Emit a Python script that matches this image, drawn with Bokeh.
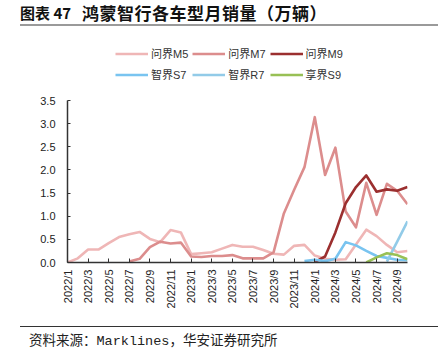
import math
from bokeh.plotting import figure
from bokeh.layouts import column
from bokeh.models import (Range1d, FixedTicker, Legend, LegendItem, Div,
                          PrintfTickFormatter)
from bokeh.embed import file_html
from bokeh.resources import INLINE

months = ["2022/1", "2022/2", "2022/3", "2022/4", "2022/5", "2022/6", "2022/7",
          "2022/8", "2022/9", "2022/10", "2022/11", "2022/12",
          "2023/1", "2023/2", "2023/3", "2023/4", "2023/5", "2023/6", "2023/7",
          "2023/8", "2023/9", "2023/10", "2023/11", "2023/12",
          "2024/1", "2024/2", "2024/3", "2024/4", "2024/5", "2024/6", "2024/7",
          "2024/8", "2024/9", "2024/10"]
tick_labels = ["2022/1", "2022/3", "2022/5", "2022/7", "2022/9", "2022/11",
               "2023/1", "2023/3", "2023/5", "2023/7", "2023/9", "2023/11",
               "2024/1", "2024/3", "2024/5", "2024/7", "2024/9"]
y_ticks = [0.0, 0.5, 1.0, 1.5, 2.0, 2.5, 3.0, 3.5]

# 万辆
m5_start = "2022/1"
m5 = [0.00, 0.09, 0.28, 0.28, 0.42, 0.55, 0.61, 0.66, 0.51, 0.44, 0.70, 0.65,
      0.18, 0.20, 0.22, 0.30, 0.38, 0.34, 0.34, 0.27, 0.19, 0.17, 0.36, 0.38,
      0.15, 0.08, 0.06, 0.07, 0.39, 0.71, 0.57, 0.38, 0.22, 0.25]
m7_start = "2022/7"
m7 = [0.02, 0.08, 0.33, 0.45, 0.41, 0.43,
      0.13, 0.12, 0.14, 0.14, 0.16, 0.09, 0.09, 0.09, 0.22, 1.06, 1.57, 2.06,
      3.14, 1.89, 2.48, 1.10, 0.76, 1.72, 1.03, 1.70, 1.55, 1.26]
m9_start = "2024/1"
m9 = [0.01, 0.13, 0.65, 1.28, 1.63, 1.88, 1.53, 1.58, 1.55, 1.63]
s7_start = "2023/12"
s7 = [0.03, 0.06, 0.03, 0.08, 0.44, 0.37, 0.25, 0.14, 0.10, 0.06, 0.05]
r7_start = "2024/8"
r7 = [0.02, 0.45, 0.89]
s9_start = "2024/6"
s9 = [0.00, 0.11, 0.20, 0.16, 0.07]

series = [
    ("问界M5", m5_start, m5, "#efb6b6"),
    ("问界M7", m7_start, m7, "#dc8d8d"),
    ("问界M9", m9_start, m9, "#9b2f2f"),
    ("智界S7", s7_start, s7, "#79c4f0"),
    ("智界R7", r7_start, r7, "#92cbe8"),
    ("享界S9", s9_start, s9, "#98c055"),
]

CJK = "Liberation Sans, Noto Sans CJK SC"
W = 438
LEFT, RIGHT = 67, 31

# ---------- header: title + rule ----------
title_html = (
    '<div style="position:relative;width:438px;height:28px;margin:0;padding:0;">'
    '<span style="position:absolute;left:20px;top:3px;white-space:nowrap;'
    "font-family:'Noto Sans CJK SC';font-weight:bold;font-size:15px;"
    'line-height:19px;color:#111111;">图表 47</span>'
    '<span style="position:absolute;left:82px;top:3px;white-space:nowrap;'
    "font-family:'Noto Sans CJK SC';font-weight:bold;font-size:17px;"
    'letter-spacing:0.5px;line-height:19px;color:#111111;">'
    '鸿蒙智行各车型月销量（万辆）</span>'
    '<div style="position:absolute;left:20px;top:24px;width:418px;height:2px;'
    'background:#9a9a9a;"></div></div>'
)
head = Div(text=title_html, width=W, height=28, margin=0)

# ---------- legend strip ----------
leg = figure(width=W, height=62, x_range=Range1d(0, 1), y_range=Range1d(0, 1),
             output_backend="svg", toolbar_location=None,
             x_axis_type=None, y_axis_type=None,
             min_border_left=LEFT, min_border_right=RIGHT,
             min_border_top=0, min_border_bottom=0)
leg.outline_line_color = None
leg.xgrid.grid_line_color = None
leg.ygrid.grid_line_color = None
items = []
for name, start, vals, color in series:
    r = leg.line([-10, -9], [-10, -10], line_color=color, line_width=2.6)
    items.append(LegendItem(label=name, renderers=[r]))
legend = Legend(items=items, orientation="horizontal", ncols=3,
                location=(115 - LEFT, 7.5),
                glyph_width=33, glyph_height=17, label_height=17,
                label_standoff=3, spacing=4, padding=0, margin=0,
                border_line_color=None, background_fill_alpha=0,
                label_text_font=CJK, label_text_font_size="11px",
                label_text_color="#333333")
leg.add_layout(legend)

# ---------- main chart ----------
p = figure(width=W, height=230, x_range=Range1d(0, 33), y_range=Range1d(0, 3.5),
           output_backend="svg", toolbar_location=None,
           min_border_left=LEFT, min_border_right=RIGHT, min_border_top=10,
           min_border_bottom=58)
p.outline_line_color = None
p.xgrid.grid_line_color = None
p.ygrid.grid_line_color = None

xa = p.xaxis[0]
xa.ticker = FixedTicker(ticks=[months.index(t) for t in tick_labels])
xa.major_label_overrides = {months.index(t): t for t in tick_labels}
xa.major_label_orientation = math.pi / 2
xa.major_tick_in = 4
xa.major_tick_out = 0
xa.minor_tick_in = 0
xa.minor_tick_out = 0
xa.major_label_standoff = 7
xa.major_label_text_font = "Liberation Sans"
xa.major_label_text_font_size = "11px"
xa.major_label_text_color = "#222222"
xa.axis_line_color = "#333333"
xa.axis_line_width = 1.5
xa.major_tick_line_color = "#333333"

ya = p.yaxis[0]
ya.ticker = FixedTicker(ticks=y_ticks)
ya.formatter = PrintfTickFormatter(format="%.1f")
ya.major_tick_in = 3
ya.major_tick_out = 0
ya.minor_tick_in = 0
ya.minor_tick_out = 0
ya.major_label_standoff = 12
ya.major_label_text_font = "Liberation Sans"
ya.major_label_text_font_size = "11px"
ya.major_label_text_color = "#222222"
ya.axis_line_color = "#333333"
ya.axis_line_width = 1.5
ya.major_tick_line_color = "#333333"

for name, start, vals, color in series:
    s = months.index(start)
    xs = list(range(s, s + len(vals)))
    p.line(xs, vals, line_color=color, line_width=2.6, line_join="round")

# ---------- footer ----------
foot_html = (
    '<div style="position:relative;width:438px;height:37px;margin:0;padding:0;">'
    '<div style="position:absolute;left:20px;top:6px;width:418px;height:1px;'
    'background:#333333;"></div>'
    '<span style="position:absolute;left:29px;top:14px;white-space:nowrap;'
    "font-family:'Liberation Mono','Noto Sans CJK SC';font-size:13.5px;"
    'line-height:16px;color:#222222;">资料来源：Marklines，华安证券研究所</span>'
    '</div>'
)
foot = Div(text=foot_html, width=W, height=37, margin=0)

layout = column(head, leg, p, foot, spacing=0)
open("out.html", "w").write(file_html(layout, INLINE))
